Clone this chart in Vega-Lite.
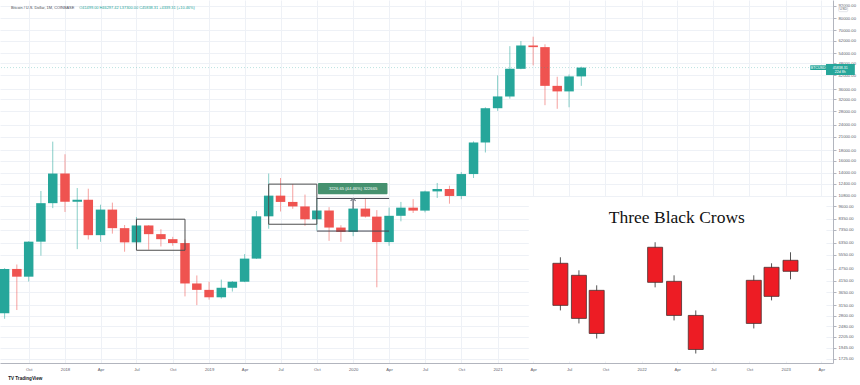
{
  "$schema": "https://vega.github.io/schema/vega-lite/v6.json",
  "width": 833,
  "height": 363,
  "autosize": {"type": "none"},
  "padding": {"left": 0, "top": 0, "right": 27, "bottom": 22},
  "background": "white",
  "config": {"view": {"stroke": null}, "font": "Liberation Sans"},
  "datasets": {
    "candles": [
      {"d": "2017-08-01", "o": 2870, "h": 4780, "l": 2700, "c": 4735},
      {"d": "2017-09-01", "o": 4735, "h": 4980, "l": 2980, "c": 4340},
      {"d": "2017-10-01", "o": 4340, "h": 6470, "l": 4110, "c": 6440},
      {"d": "2017-11-01", "o": 6440, "h": 11400, "l": 5500, "c": 9940},
      {"d": "2017-12-01", "o": 9940, "h": 19891, "l": 9400, "c": 13880},
      {"d": "2018-01-01", "o": 13880, "h": 17250, "l": 9000, "c": 10100},
      {"d": "2018-02-01", "o": 10100, "h": 11790, "l": 5920, "c": 10330},
      {"d": "2018-03-01", "o": 10330, "h": 11700, "l": 6600, "c": 6930},
      {"d": "2018-04-01", "o": 6930, "h": 9770, "l": 6430, "c": 9245},
      {"d": "2018-05-01", "o": 9245, "h": 10000, "l": 7050, "c": 7500},
      {"d": "2018-06-01", "o": 7500, "h": 7770, "l": 5750, "c": 6390},
      {"d": "2018-07-01", "o": 6390, "h": 8500, "l": 6120, "c": 7730},
      {"d": "2018-08-01", "o": 7730, "h": 7760, "l": 5880, "c": 7010},
      {"d": "2018-09-01", "o": 7010, "h": 7410, "l": 6100, "c": 6625},
      {"d": "2018-10-01", "o": 6625, "h": 6800, "l": 6150, "c": 6340},
      {"d": "2018-11-01", "o": 6340, "h": 6600, "l": 3475, "c": 4020},
      {"d": "2018-12-01", "o": 4020, "h": 4400, "l": 3150, "c": 3740},
      {"d": "2019-01-01", "o": 3740, "h": 4100, "l": 3350, "c": 3440},
      {"d": "2019-02-01", "o": 3440, "h": 4200, "l": 3390, "c": 3830},
      {"d": "2019-03-01", "o": 3830, "h": 4130, "l": 3670, "c": 4100},
      {"d": "2019-04-01", "o": 4100, "h": 5600, "l": 4080, "c": 5320},
      {"d": "2019-05-01", "o": 5320, "h": 9100, "l": 5300, "c": 8570},
      {"d": "2019-06-01", "o": 8570, "h": 13880, "l": 7450, "c": 10820},
      {"d": "2019-07-01", "o": 10820, "h": 13200, "l": 9050, "c": 10080},
      {"d": "2019-08-01", "o": 10080, "h": 12330, "l": 9330, "c": 9580},
      {"d": "2019-09-01", "o": 9580, "h": 10950, "l": 7700, "c": 8290},
      {"d": "2019-10-01", "o": 8290, "h": 10550, "l": 7300, "c": 9150},
      {"d": "2019-11-01", "o": 9150, "h": 9500, "l": 6500, "c": 7550},
      {"d": "2019-12-01", "o": 7550, "h": 7750, "l": 6430, "c": 7190},
      {"d": "2020-01-01", "o": 7190, "h": 9580, "l": 6850, "c": 9350},
      {"d": "2020-02-01", "o": 9350, "h": 10500, "l": 8450, "c": 8540},
      {"d": "2020-03-01", "o": 8540, "h": 9190, "l": 3850, "c": 6410},
      {"d": "2020-04-01", "o": 6410, "h": 9460, "l": 6150, "c": 8620},
      {"d": "2020-05-01", "o": 8620, "h": 10080, "l": 8100, "c": 9450},
      {"d": "2020-06-01", "o": 9450, "h": 10400, "l": 8900, "c": 9140},
      {"d": "2020-07-01", "o": 9140, "h": 11450, "l": 8960, "c": 11350},
      {"d": "2020-08-01", "o": 11350, "h": 12480, "l": 10540, "c": 11660},
      {"d": "2020-09-01", "o": 11660, "h": 12100, "l": 9880, "c": 10780},
      {"d": "2020-10-01", "o": 10780, "h": 14100, "l": 10400, "c": 13800},
      {"d": "2020-11-01", "o": 13800, "h": 19950, "l": 13200, "c": 19700},
      {"d": "2020-12-01", "o": 19700, "h": 29300, "l": 17600, "c": 28990},
      {"d": "2021-01-01", "o": 28990, "h": 41950, "l": 28130, "c": 33110},
      {"d": "2021-02-01", "o": 33110, "h": 58350, "l": 32300, "c": 45200},
      {"d": "2021-03-01", "o": 45200, "h": 61790, "l": 45000, "c": 58800},
      {"d": "2021-04-01", "o": 58800, "h": 64900, "l": 47000, "c": 57720},
      {"d": "2021-05-01", "o": 57720, "h": 59600, "l": 30000, "c": 37300},
      {"d": "2021-06-01", "o": 37300, "h": 41330, "l": 28800, "c": 35040},
      {"d": "2021-07-01", "o": 35040, "h": 42400, "l": 29300, "c": 41499},
      {"d": "2021-08-01", "o": 41499, "h": 46297.42, "l": 37300, "c": 45838.31}
    ],
    "boxes": [
      {"x1": "2018-07-01", "x2": "2018-11-01", "lo": 5845, "hi": 8295},
      {"x1": "2019-06-01", "x2": "2019-10-01", "lo": 7838, "hi": 12320}
    ],
    "mlines": [
      {"x1": "2019-10-01", "x2": "2020-04-01", "p": 10484.05},
      {"x1": "2019-10-01", "x2": "2020-04-01", "p": 7257.4}
    ],
    "measure": [
      {"xm": "2020-01-01", "lo": 7257.4, "hi": 10484.05}
    ],
    "mlabel": [
      {"x1": "2019-10-04", "x2": "2020-03-28", "lo": 11004, "hi": 12460, "xm": "2020-01-01", "pm": 11712, "t": "3226.65 (44.46%) 322665"}
    ],
    "price": [{"p": 45838.31}],
    "insetbox": [{"x1": "2021-03-21", "x2": "2023-04-14", "lo": 1668, "hi": 10650}],
    "insettitle": [{"d": "2022-03-31", "p": 7947, "t": "Three Black Crows"}],
    "inset": [
      {"d": "2021-06-09", "top": 5046, "bot": 3140, "hi": 5401, "lo": 2967},
      {"d": "2021-07-26", "top": 4407, "bot": 2711, "hi": 4663, "lo": 2562},
      {"d": "2021-09-09", "top": 3720, "bot": 2288, "hi": 3936, "lo": 2162},
      {"d": "2022-02-04", "top": 6046, "bot": 4072, "hi": 6398, "lo": 3848},
      {"d": "2022-03-24", "top": 4118, "bot": 2804, "hi": 4407, "lo": 2650},
      {"d": "2022-05-18", "top": 2804, "bot": 1910, "hi": 2967, "lo": 1825},
      {"d": "2022-10-12", "top": 4165, "bot": 2562, "hi": 4407, "lo": 2421},
      {"d": "2022-11-26", "top": 4823, "bot": 3476, "hi": 5046, "lo": 3322},
      {"d": "2023-01-13", "top": 5220, "bot": 4610, "hi": 5714, "lo": 4212}
    ],
    "hdr1": [{"d": "2017-08-17", "p": 90050, "t": "Bitcoin / U.S. Dollar, 1M, COINBASE"}],
    "hdr2": [{"d": "2018-02-06", "p": 90050, "t": "O41499.00 H46297.42 L37300.00 C45838.31 +4339.31 (+10.46%)"}],
    "logo": [{"d": "2017-08-10", "p": 1377, "t": "TV TradingView"}],
    "plabelbox": [
      {"x1": "2023-03-04", "x2": "2023-04-13", "lo": 44600, "hi": 47030},
      {"x1": "2023-04-13", "x2": "2023-06-25", "lo": 42160, "hi": 47730}
    ],
    "plabeltext": [
      {"d": "2023-03-24", "p": 45780, "t": "BTCUSD"},
      {"d": "2023-05-19", "p": 45838, "t": "45838.31"},
      {"d": "2023-05-19", "p": 43600, "t": "22d 8h"}
    ],
    "usdbox": [{"x1": "2023-05-15", "x2": "2023-06-07", "lo": 86080, "hi": 91080, "d": "2023-05-27", "p": 88550, "t": "USD"}]
  },
  "layer": [
    {
      "data": {"name": "candles"},
      "mark": {"type": "rule", "strokeWidth": 1, "opacity": 0.55},
      "encoding": {
        "x": {
          "field": "d", "type": "temporal",
          "scale": {"type": "utc", "nice": false, "domain": [{"year": 2017, "month": 8, "date": 2, "utc": true}, {"year": 2023, "month": 4, "date": 18, "utc": true}]},
          "axis": {
            "title": null, "grid": true, "gridColor": "#eef1f6", "gridWidth": 1,
            "domain": true, "domainColor": "#b2b5be", "ticks": false,
            "labelFontSize": 4.2, "labelColor": "#5d606b", "labelPadding": 4,
            "labelFlush": false, "labelOverlap": false,
            "tickCount": {"interval": "month", "step": 3},
            "labelExpr": "utcFormat(datum.value, utcmonth(datum.value) == 0 ? '%Y' : '%b')"
          }
        },
        "y": {
          "field": "l", "type": "quantitative",
          "scale": {"type": "log", "nice": false, "domain": [1640, 98190]},
          "axis": {
            "orient": "right", "title": null,
            "values": [1725, 1945, 2205, 2480, 2800, 3150, 3650, 4150, 4750, 5550, 6350, 7350, 8350, 9600, 10800, 12400, 14000, 16000, 18000, 21000, 24000, 28000, 32000, 36000, 42000, 48000, 54000, 62000, 70000, 80000, 92000],
            "format": ".2f", "grid": true, "gridColor": "#eef1f6",
            "domainColor": "#b2b5be", "tickColor": "#b2b5be", "tickSize": 3,
            "labelPadding": 2, "labelFontSize": 4.2, "labelColor": "#5d606b",
            "labelOverlap": false, "labelFlush": false
          }
        },
        "y2": {"field": "h"},
        "color": {"condition": {"test": "datum.c >= datum.o", "value": "#26a69a"}, "value": "#ef5350"}
      }
    },
    {
      "data": {"name": "measure"},
      "mark": {"type": "rule", "strokeWidth": 1.5, "color": "#787b86"},
      "encoding": {
        "x": {"field": "xm", "type": "temporal"},
        "y": {"field": "lo", "type": "quantitative", "axis": {"orient": "right"}},
        "y2": {"field": "hi"}
      }
    },
    {
      "data": {"name": "candles"},
      "mark": {"type": "bar", "width": 9.5},
      "encoding": {
        "x": {"field": "d", "type": "temporal"},
        "y": {"field": "o", "type": "quantitative", "axis": {"orient": "right"}},
        "y2": {"field": "c"},
        "color": {"condition": {"test": "datum.c >= datum.o", "value": "#26a69a"}, "value": "#ef5350"}
      }
    },
    {
      "data": {"name": "price"},
      "mark": {"type": "rule", "color": "#26a69a", "opacity": 0.3, "strokeDash": [1, 2], "strokeWidth": 1},
      "encoding": {
        "y": {"field": "p", "type": "quantitative", "axis": {"orient": "right"}}
      }
    },
    {
      "data": {"name": "boxes"},
      "mark": {"type": "rect", "fill": "transparent", "stroke": "#4d4d4d", "strokeWidth": 1},
      "encoding": {
        "x": {"field": "x1", "type": "temporal"},
        "x2": {"field": "x2"},
        "y": {"field": "lo", "type": "quantitative", "axis": {"orient": "right"}},
        "y2": {"field": "hi"}
      }
    },
    {
      "data": {"name": "mlines"},
      "mark": {"type": "rule", "color": "#434651", "strokeWidth": 1},
      "encoding": {
        "x": {"field": "x1", "type": "temporal"},
        "x2": {"field": "x2"},
        "y": {"field": "p", "type": "quantitative", "axis": {"orient": "right"}}
      }
    },
    {
      "data": {"name": "measure"},
      "mark": {"type": "point", "shape": "M-1,1L0,0L1,1", "filled": false, "stroke": "#787b86", "strokeWidth": 1.2, "size": 25, "opacity": 1},
      "encoding": {
        "x": {"field": "xm", "type": "temporal"},
        "y": {"field": "hi", "type": "quantitative", "axis": {"orient": "right"}}
      }
    },
    {
      "data": {"name": "mlabel"},
      "mark": {"type": "rect", "fill": "#45916f", "cornerRadius": 1},
      "encoding": {
        "x": {"field": "x1", "type": "temporal"},
        "x2": {"field": "x2"},
        "y": {"field": "lo", "type": "quantitative", "axis": {"orient": "right"}},
        "y2": {"field": "hi"}
      }
    },
    {
      "data": {"name": "mlabel"},
      "mark": {"type": "text", "color": "white", "fontSize": 4.2, "align": "center", "baseline": "middle"},
      "encoding": {
        "x": {"field": "xm", "type": "temporal"},
        "y": {"field": "pm", "type": "quantitative", "axis": {"orient": "right"}},
        "text": {"field": "t"}
      }
    },
    {
      "data": {"name": "insetbox"},
      "mark": {"type": "rect", "fill": "white"},
      "encoding": {
        "x": {"field": "x1", "type": "temporal"},
        "x2": {"field": "x2"},
        "y": {"field": "lo", "type": "quantitative", "axis": {"orient": "right"}},
        "y2": {"field": "hi"}
      }
    },
    {
      "data": {"name": "insettitle"},
      "mark": {"type": "text", "font": "Liberation Serif", "fontSize": 17.5, "color": "#111111", "align": "center", "baseline": "alphabetic"},
      "encoding": {
        "x": {"field": "d", "type": "temporal"},
        "y": {"field": "p", "type": "quantitative", "axis": {"orient": "right"}},
        "text": {"field": "t"}
      }
    },
    {
      "data": {"name": "inset"},
      "mark": {"type": "rule", "color": "#555555", "strokeWidth": 1},
      "encoding": {
        "x": {"field": "d", "type": "temporal"},
        "y": {"field": "lo", "type": "quantitative", "axis": {"orient": "right"}},
        "y2": {"field": "hi"}
      }
    },
    {
      "data": {"name": "inset"},
      "mark": {"type": "bar", "width": 15, "fill": "#ed1c24", "stroke": "#4a3030", "strokeWidth": 0.8},
      "encoding": {
        "x": {"field": "d", "type": "temporal"},
        "y": {"field": "bot", "type": "quantitative", "axis": {"orient": "right"}},
        "y2": {"field": "top"}
      }
    },
    {
      "data": {"name": "hdr1"},
      "mark": {"type": "text", "fontSize": 3.9, "color": "#4a4d57", "align": "left", "baseline": "middle"},
      "encoding": {
        "x": {"field": "d", "type": "temporal"},
        "y": {"field": "p", "type": "quantitative", "axis": {"orient": "right"}},
        "text": {"field": "t"}
      }
    },
    {
      "data": {"name": "hdr2"},
      "mark": {"type": "text", "fontSize": 3.9, "color": "#26a69a", "align": "left", "baseline": "middle"},
      "encoding": {
        "x": {"field": "d", "type": "temporal"},
        "y": {"field": "p", "type": "quantitative", "axis": {"orient": "right"}},
        "text": {"field": "t"}
      }
    },
    {
      "data": {"name": "logo"},
      "mark": {"type": "text", "fontSize": 4.6, "fontWeight": "bold", "color": "#131722", "align": "left", "baseline": "middle"},
      "encoding": {
        "x": {"field": "d", "type": "temporal"},
        "y": {"field": "p", "type": "quantitative", "axis": {"orient": "right"}},
        "text": {"field": "t"}
      }
    },
    {
      "data": {"name": "plabelbox"},
      "mark": {"type": "rect", "fill": "#26a69a"},
      "encoding": {
        "x": {"field": "x1", "type": "temporal"},
        "x2": {"field": "x2"},
        "y": {"field": "lo", "type": "quantitative", "axis": {"orient": "right"}},
        "y2": {"field": "hi"}
      }
    },
    {
      "data": {"name": "plabeltext"},
      "mark": {"type": "text", "fontSize": 3.6, "color": "white", "align": "center", "baseline": "middle"},
      "encoding": {
        "x": {"field": "d", "type": "temporal"},
        "y": {"field": "p", "type": "quantitative", "axis": {"orient": "right"}},
        "text": {"field": "t"}
      }
    },
    {
      "data": {"name": "usdbox"},
      "mark": {"type": "rect", "fill": "white", "stroke": "#d1d4dc", "strokeWidth": 0.6, "cornerRadius": 1},
      "encoding": {
        "x": {"field": "x1", "type": "temporal"},
        "x2": {"field": "x2"},
        "y": {"field": "lo", "type": "quantitative", "axis": {"orient": "right"}},
        "y2": {"field": "hi"}
      }
    },
    {
      "data": {"name": "usdbox"},
      "mark": {"type": "text", "fontSize": 3.6, "color": "#5d606b", "align": "center", "baseline": "middle"},
      "encoding": {
        "x": {"field": "d", "type": "temporal"},
        "y": {"field": "p", "type": "quantitative", "axis": {"orient": "right"}},
        "text": {"field": "t"}
      }
    }
  ]
}
